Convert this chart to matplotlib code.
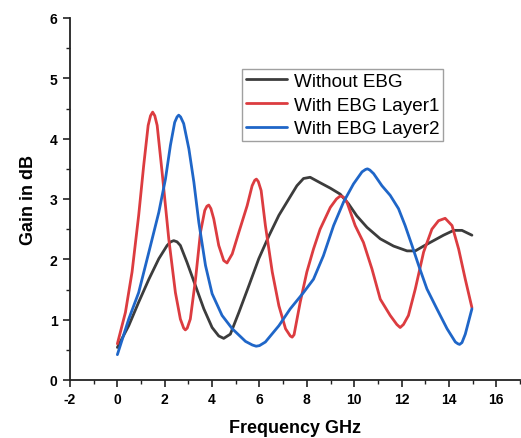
import matplotlib
matplotlib.use("Agg")
import matplotlib.pyplot as plt
from matplotlib.ticker import MultipleLocator

plt.rcParams['font.family'] = ['Liberation Sans', 'DejaVu Sans']
plt.rcParams['axes.unicode_minus'] = False

# Gain (dB) versus frequency (GHz) for the three antenna configurations
freq_no_ebg = [0.0, 0.48, 0.9, 1.33, 1.75, 2.1, 2.25, 2.38, 2.52, 2.66, 2.94, 3.3, 3.65,
               4.0, 4.28, 4.49, 4.77, 5.13, 5.55, 5.97, 6.4, 6.82, 7.3, 7.58, 7.86, 8.14,
               8.56, 8.99, 9.41, 9.76, 10.11, 10.54, 11.1, 11.66, 12.23, 12.58, 12.93,
               13.35, 13.77, 14.2, 14.55, 14.97]
gain_no_ebg = [0.54, 0.9, 1.29, 1.67, 2.01, 2.23, 2.29, 2.31, 2.29, 2.23, 1.95, 1.56, 1.18,
               0.87, 0.73, 0.69, 0.76, 1.12, 1.56, 2.01, 2.39, 2.73, 3.04, 3.22, 3.34, 3.36,
               3.27, 3.18, 3.08, 2.92, 2.72, 2.53, 2.34, 2.22, 2.14, 2.14, 2.22,
               2.31, 2.4, 2.48, 2.48, 2.4]

freq_layer1 = [0.0, 0.34, 0.62, 0.9, 1.11, 1.3, 1.4, 1.49, 1.58, 1.68, 1.89, 2.17, 2.45,
               2.66, 2.8, 2.87, 2.95, 3.08, 3.3, 3.51, 3.69, 3.78, 3.86, 3.95, 4.07, 4.28,
               4.49, 4.63, 4.85, 5.13, 5.48, 5.69, 5.8, 5.87, 5.95, 6.07, 6.25, 6.54,
               6.82, 7.1, 7.3, 7.38, 7.46, 7.72, 8.0, 8.28, 8.56, 8.99, 9.25, 9.41, 9.55,
               9.69, 10.04, 10.39, 10.75, 11.1, 11.52, 11.8, 11.94, 12.08, 12.29, 12.58,
               12.93, 13.28, 13.56, 13.84, 14.13, 14.41, 14.69, 14.97]
gain_layer1 = [0.6, 1.12, 1.79, 2.73, 3.55, 4.22, 4.38, 4.44, 4.38, 4.22, 3.44, 2.34, 1.45,
               1.01, 0.86, 0.83, 0.86, 1.01, 1.67, 2.45, 2.81, 2.88, 2.9, 2.84, 2.67, 2.23,
               1.98, 1.94, 2.09, 2.45, 2.89, 3.22, 3.31, 3.33, 3.29, 3.14, 2.56, 1.79,
               1.23, 0.85, 0.73, 0.71, 0.75, 1.29, 1.79, 2.17, 2.5, 2.86, 3.0, 3.05, 3.03,
               2.95, 2.56, 2.28, 1.84, 1.34, 1.07, 0.92, 0.87, 0.92, 1.07, 1.51,
               2.12, 2.5, 2.64, 2.68, 2.56, 2.17, 1.67, 1.2]

freq_layer2 = [0.0, 0.48, 0.9, 1.33, 1.75, 2.03, 2.24, 2.42, 2.52, 2.59, 2.67, 2.8, 3.02,
               3.23, 3.44, 3.72, 4.0, 4.42, 4.85, 5.41, 5.7, 5.86, 6.0, 6.25, 6.82, 7.3,
               7.86, 8.28, 8.7, 9.13, 9.55, 9.97, 10.33, 10.48, 10.56, 10.66, 10.82, 11.17,
               11.52, 11.87, 12.15, 12.44, 12.72, 13.07, 13.49, 13.92, 14.27, 14.38, 14.45,
               14.55, 14.69, 14.97]
gain_layer2 = [0.42, 1.01, 1.45, 2.12, 2.78, 3.33, 3.89, 4.27, 4.36, 4.39, 4.36, 4.25, 3.83,
               3.28, 2.61, 1.9, 1.43, 1.07, 0.85, 0.64, 0.58, 0.56, 0.57, 0.63, 0.9, 1.18,
               1.45, 1.67, 2.06, 2.56, 2.95, 3.25, 3.45, 3.49, 3.5, 3.48, 3.42, 3.22,
               3.06, 2.84, 2.56, 2.23, 1.9, 1.51, 1.18, 0.85, 0.63, 0.6, 0.59,
               0.62, 0.76, 1.18]

series_labels = ['Without EBG', 'With EBG Layer1', 'With EBG Layer2']
series_colors = ['#3c3c3c', '#dc3c40', '#1f66c8']

x_ticks = [-2, 0, 2, 4, 6, 8, 10, 12, 14, 16]
y_ticks = [0, 1, 2, 3, 4, 5, 6]

fig = plt.figure(figsize=(5.21, 4.39), dpi=100)
ax = fig.add_axes([70 / 521, 58 / 439, 450 / 521, 362 / 439])

for fx, gy, lab, col in zip([freq_no_ebg, freq_layer1, freq_layer2],
                            [gain_no_ebg, gain_layer1, gain_layer2],
                            series_labels, series_colors):
    ax.plot(fx, gy, color=col, lw=2.0, label=lab, solid_capstyle='round',
            solid_joinstyle='round')

ax.set_xlim(-2, 17)
ax.set_ylim(0, 6)
ax.set_xticks(x_ticks)
ax.set_yticks(y_ticks)
ax.xaxis.set_minor_locator(MultipleLocator(1))
ax.yaxis.set_minor_locator(MultipleLocator(0.5))

for side in ['top', 'right']:
    ax.spines[side].set_visible(False)
for side in ['left', 'bottom']:
    ax.spines[side].set_linewidth(1.3)
    ax.spines[side].set_color('#222222')

ax.tick_params(which='major', direction='out', length=5, width=1.2, color='#222222',
               labelsize=10, pad=4)
ax.tick_params(which='minor', direction='out', length=3, width=1.0, color='#222222')
for lbl in ax.get_xticklabels() + ax.get_yticklabels():
    lbl.set_fontweight('bold')

ax.set_xlabel('Frequency GHz', fontsize=13, fontweight='bold', labelpad=9)
ax.set_ylabel('Gain in dB', fontsize=13, fontweight='bold', labelpad=9)

leg = ax.legend(loc='upper left', bbox_to_anchor=(0.382, 0.859), borderaxespad=0,
                fontsize=13.6, frameon=True, fancybox=False, edgecolor='#888888',
                handlelength=2.2, handletextpad=0.35, labelspacing=0.34,
                borderpad=0.2)
leg.get_frame().set_linewidth(1.0)

fig.savefig('out.png', dpi=100)
